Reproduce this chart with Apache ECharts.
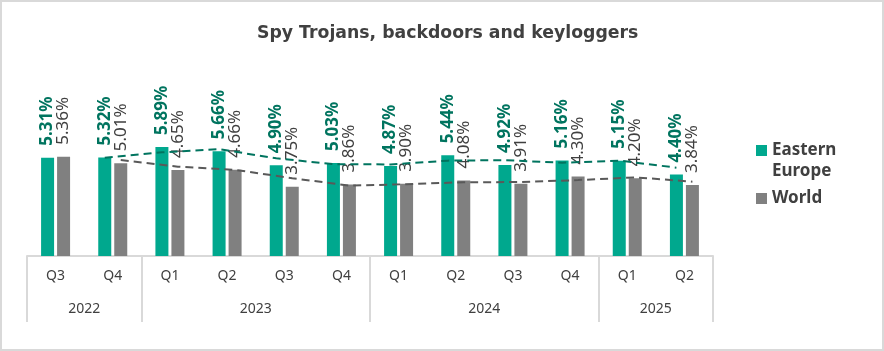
<!DOCTYPE html>
<html>
<head>
<meta charset="utf-8">
<script src="https://cdn.jsdelivr.net/npm/echarts@6/dist/echarts.min.js"></script>
<style>
  html, body { margin: 0; padding: 0; background: #fff; }
  #wrap { position: relative; width: 884px; height: 351px; }
  #chart { position: absolute; left: 0; top: 0; width: 884px; height: 351px; }
  #frame { position: absolute; left: 0; top: 0; width: 884px; height: 351px;
           box-sizing: border-box; border: 2px solid #d9d9d9; pointer-events: none; }
</style>
</head>
<body>
<div id="wrap">
  <div id="chart"></div>
  <div id="frame"></div>
</div>
<script>
// quarters and years (two-level category axis)
var quarters = ["Q3", "Q4", "Q1", "Q2", "Q3", "Q4", "Q1", "Q2", "Q3", "Q4", "Q1", "Q2"];
var years = ["2022", "2023", "2024", "2025"];
var yearSpans = [2, 4, 4, 2];

// share of users attacked, %
var easternEurope = [5.31, 5.32, 5.89, 5.66, 4.90, 5.03, 4.87, 5.44, 4.92, 5.16, 5.15, 4.40];
var world = [5.36, 5.01, 4.65, 4.66, 3.75, 3.86, 3.90, 4.08, 3.91, 4.30, 4.20, 3.84];

var GREEN = "#00a88e";
var GREEN_DARK = "#00745f";
var GREY = "#808080";
var TEXT = "#404040";
var FONT = "Noto Sans";

// plot geometry
var gridLeft = 27, gridRight = 171;
var catW = (884 - gridLeft - gridRight) / quarters.length;
var barW = 13, barGapPx = 3;
var shift = (barW + barGapPx) / 2 / catW;

// year axis: 13 boundary slots, label at middle of each year group
var yearSlots = [];
var tickSlots = {};
var pos = 0;
for (var i = 0; i <= quarters.length; i++) yearSlots.push("");
years.forEach(function (y, k) {
  tickSlots[pos] = true;
  yearSlots[pos + yearSpans[k] / 2] = y;
  pos += yearSpans[k];
});
tickSlots[pos] = true;

// 2-period moving average trend lines (placed on each series' bar)
function movingAvg(arr, off) {
  var out = [];
  for (var i = 1; i < arr.length; i++) {
    out.push([i + off, (arr[i - 1] + arr[i]) / 2]);
  }
  return out;
}

function barLabel(color, weight) {
  return {
    show: true,
    position: "top",
    rotate: 90,
    align: "left",
    verticalAlign: "middle",
    distance: 12,
    color: color,
    fontFamily: FONT,
    fontSize: 17,
    fontWeight: weight,
    formatter: function (p) { return p.value.toFixed(2) + "%"; }
  };
}

var myChart = echarts.init(document.getElementById("chart"));
var option = {
  animation: false,
  title: {
    text: "Spy Trojans, backdoors and keyloggers",
    left: 257,
    top: 25,
    padding: 0,
    textStyle: { fontFamily: "DejaVu Sans", fontSize: 17.3, fontWeight: "bold", color: TEXT }
  },
  legend: {
    orient: "vertical",
    left: 756,
    top: 119,
    padding: 0,
    itemWidth: 11,
    itemHeight: 11,
    itemGap: 6,
    icon: "rect",
    data: ["Eastern Europe", "World"],
    // leading blank line keeps the square level with the first text line
    formatter: function (name) { return name === "Eastern Europe" ? "\nEastern\nEurope" : name; },
    textStyle: { fontFamily: FONT, fontSize: 17, fontWeight: "bold", color: TEXT, lineHeight: 21 }
  },
  grid: { left: gridLeft, right: gridRight, top: 108, bottom: 95, outerBoundsMode: "none" },
  xAxis: [
    {
      type: "category",
      data: quarters,
      axisLine: { lineStyle: { color: "#d9d9d9", width: 2 } },
      axisTick: { show: false },
      axisLabel: { margin: 13, fontFamily: FONT, fontSize: 14, color: TEXT, interval: 0 }
    },
    {
      type: "category",
      data: yearSlots,
      boundaryGap: false,
      position: "bottom",
      axisLine: { show: false },
      axisTick: {
        show: true,
        length: 66,
        interval: function (idx) { return !!tickSlots[idx]; },
        lineStyle: { color: "#d9d9d9", width: 2 }
      },
      axisLabel: { margin: 46, interval: 0, fontFamily: FONT, fontSize: 14, color: TEXT }
    },
    { type: "value", min: -0.5, max: quarters.length - 0.5, show: false }
  ],
  yAxis: { type: "value", min: 0, max: 8, show: false },
  series: [
    {
      name: "Eastern Europe",
      type: "bar",
      data: easternEurope,
      barWidth: barW,
      barGap: (barGapPx / barW * 100) + "%",
      itemStyle: { color: GREEN },
      label: barLabel(GREEN_DARK, "bold")
    },
    {
      name: "World",
      type: "bar",
      data: world,
      barWidth: barW,
      itemStyle: { color: GREY },
      label: barLabel(TEXT, "normal")
    },
    {
      name: "EE trend",
      type: "line",
      xAxisIndex: 2,
      data: movingAvg(easternEurope, -shift),
      symbol: "none",
      lineStyle: { color: GREEN_DARK, width: 2, type: [8, 5] },
      z: 3
    },
    {
      name: "World trend",
      type: "line",
      xAxisIndex: 2,
      data: movingAvg(world, shift),
      symbol: "none",
      lineStyle: { color: "#595959", width: 2, type: [8, 5] },
      z: 3
    }
  ]
};
myChart.setOption(option);
</script>
</body>
</html>
